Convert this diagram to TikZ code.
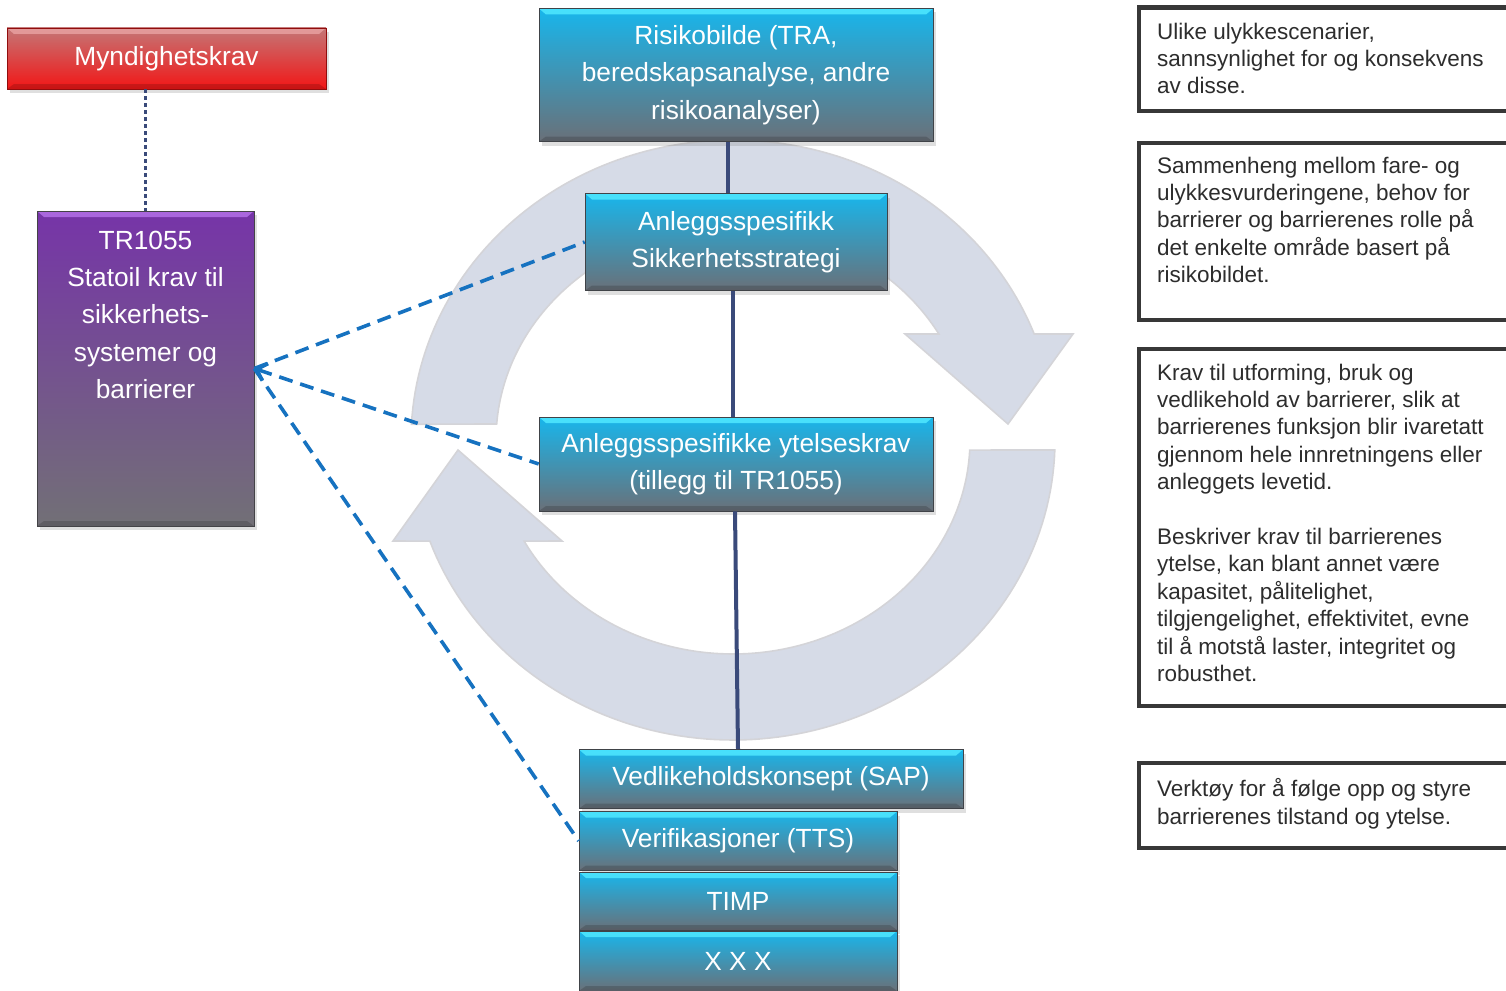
\documentclass[tikz,border=0pt]{standalone}
\usepackage{fontspec}
\setmainfont{Liberation Sans}
\usetikzlibrary{shadows,arrows.meta}

\definecolor{cyanTop}{RGB}{24,182,236}
\definecolor{cyanBot}{RGB}{106,112,120}
\definecolor{cyanHi}{RGB}{80,232,255}
\definecolor{redTop}{RGB}{196,118,118}
\definecolor{redBot}{RGB}{242,22,22}
\definecolor{redHi}{RGB}{232,160,160}
\definecolor{purTop}{RGB}{118,52,168}
\definecolor{purBot}{RGB}{114,112,118}
\definecolor{purHi}{RGB}{180,112,232}
\definecolor{ringFill}{RGB}{214,219,231}
\definecolor{ringEdge}{RGB}{212,212,216}
\definecolor{linkNavy}{RGB}{58,74,122}
\definecolor{linkBlue}{RGB}{22,114,192}
\definecolor{noteEdge}{RGB}{56,56,56}
\definecolor{noteText}{RGB}{45,45,45}

\tikzset{
  bevelbox/.style={rectangle, inner sep=0pt, text=white, align=center,
    font=\fontsize{26.3}{37.4}\selectfont,
    draw=#1Bot!60!black, line width=0.6pt,
    top color=#1Top, bottom color=#1Bot,
    drop shadow={opacity=0.25, shadow xshift=3pt, shadow yshift=-4pt},
    path picture={
      \fill[#1Hi, opacity=0.85]
        (path picture bounding box.north west) -- (path picture bounding box.north east)
        -- ([xshift=-7pt,yshift=-6pt]path picture bounding box.north east)
        -- ([xshift=7pt,yshift=-6pt]path picture bounding box.north west) -- cycle;
      \fill[black, opacity=0.16]
        (path picture bounding box.south west) -- (path picture bounding box.south east)
        -- ([xshift=-7pt,yshift=5pt]path picture bounding box.south east)
        -- ([xshift=7pt,yshift=5pt]path picture bounding box.south west) -- cycle;
    }},
  ringarrow/.style={fill=ringFill, draw=ringEdge, line width=1.6pt, line join=miter},
  linksolid/.style={draw=linkNavy, line width=4pt},
  linkdot/.style={draw=linkNavy, line width=3.5pt, dash pattern=on 3.5pt off 3.5pt},
  linkdash/.style={draw=linkBlue, line width=3.6pt, dash pattern=on 14pt off 8pt},
  notebox/.style={draw=noteEdge, line width=4.5pt, fill=white, anchor=north west,
    inner sep=0pt, minimum width=420pt},
  notetext/.style={anchor=north west, inner sep=0pt, align=left, text=noteText,
    font=\fontsize{22.5}{27.4}\selectfont},
}

\begin{document}
\begin{tikzpicture}[x=1pt, y=-1pt]
\useasboundingbox (0,0) rectangle (1506,990);

% circular cycle arrows behind everything
\path[ringarrow]
  plot[domain=183:339.3, samples=100] ({733+322*cos(\x)}, {440+300*sin(\x)})
  -- (1073,334) -- (1008,424) -- (905,334)
  -- plot[domain=330.3:184.3, samples=100] ({733+237*cos(\x)}, {440+214*sin(\x)})
  -- cycle;
\path[ringarrow]
  plot[domain=1.9:160.3, samples=100] ({733+322*cos(\x)}, {440+300*sin(\x)})
  -- (393,541) -- (458,450) -- (562,541)
  -- plot[domain=151.8:2.7, samples=100] ({733+237*cos(\x)}, {440+214*sin(\x)})
  -- cycle;

% left column
\node[bevelbox=red, minimum width=319pt, minimum height=61pt] (myn) at (166.5,58.5) {Myndighetskrav};
\node[bevelbox=pur, minimum width=217pt, minimum height=315pt] (tr) at (145.5,368.5) {};
\node[anchor=north, inner sep=0pt, align=center, text=white,
      font=\fontsize{26.3}{37.4}\selectfont] (trtext) at (145.5,230.5)
  {TR1055\\Statoil krav til\\sikkerhets-\\systemer og\\barrierer};

% central chain
\node[bevelbox=cyan, minimum width=394pt, minimum height=133pt] (risk) at (736,75)
  {Risikobilde (TRA,\\beredskapsanalyse, andre\\risikoanalyser)};
\node[bevelbox=cyan, minimum width=302pt, minimum height=97pt] (strat) at (736,242)
  {Anleggsspesifikk\\Sikkerhetsstrategi};
\node[bevelbox=cyan, minimum width=394pt, minimum height=94pt] (ytel) at (736,464)
  {Anleggsspesifikke ytelseskrav\\(tillegg til TR1055)};
\node[bevelbox=cyan, minimum width=384pt, minimum height=59pt] (ved) at (771,779)
  {Vedlikeholdskonsept (SAP)};
\node[bevelbox=cyan, minimum width=318pt, minimum height=59pt] (ver) at (738,841)
  {Verifikasjoner (TTS)};
\node[bevelbox=cyan, minimum width=318pt, minimum height=58pt] (timp) at (738,901)
  {TIMP};
\node[bevelbox=cyan, minimum width=318pt, minimum height=60pt] (xxx) at (738,961)
  {X X X};

% connectors
\draw[linksolid] ([xshift=-8pt]risk.south) -- ([xshift=-8pt]strat.north);
\draw[linksolid] ([xshift=-3pt]strat.south) -- ([xshift=-3pt]ytel.north);
\draw[linksolid] ([xshift=-1pt]ytel.south) -- ([xshift=-33pt]ved.north);
\draw[linkdot] ([xshift=-21pt]myn.south) -- (tr.north);
\draw[linkdash] (tr.east) -- (strat.west);
\draw[linkdash, {Straight Barb[length=9pt,width=18pt]}-] (tr.east) -- (ytel.west);
\draw[linkdash] (tr.east) -- (ver.west);

% explanatory notes on the right
\node[notebox, minimum height=103pt] (n1) at (1136.5,5.5) {};
\node[notetext] (t1) at (1157,22.5)
  {Ulike ulykkescenarier,\\sannsynlighet for og konsekvens\\av disse.};
\node[notebox, minimum height=177pt] (n2) at (1136.5,140.5) {};
\node[notetext] (t2) at (1157,156.5)
  {Sammenheng mellom fare- og\\ulykkesvurderingene, behov for\\barrierer og barrierenes rolle på\\det enkelte område basert på\\risikobildet.};
\node[notebox, minimum height=357pt] (n3) at (1136.5,346.5) {};
\node[notetext] (t3) at (1157,363.5)
  {Krav til utforming, bruk og\\vedlikehold av barrierer, slik at\\barrierenes funksjon blir ivaretatt\\gjennom hele innretningens eller\\anleggets levetid.\\[27.4pt]Beskriver krav til barrierenes\\ytelse, kan blant annet være\\kapasitet, pålitelighet,\\tilgjengelighet, effektivitet, evne\\til å motstå laster, integritet og\\robusthet.};
\node[notebox, minimum height=85pt] (n4) at (1136.5,760.5) {};
\node[notetext] (t4) at (1157,778.5)
  {Verktøy for å følge opp og styre\\barrierenes tilstand og ytelse.};
\end{tikzpicture}
\end{document}
